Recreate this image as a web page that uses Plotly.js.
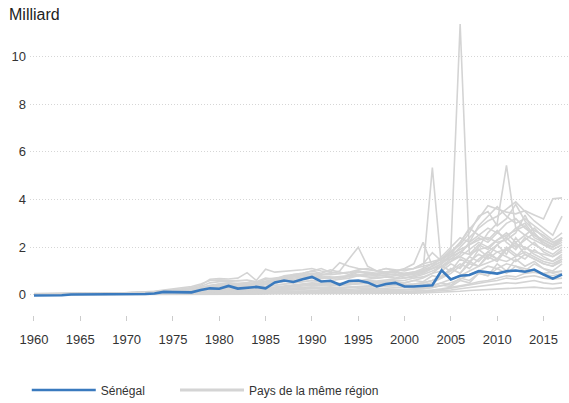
<!DOCTYPE html>
<html>
<head>
<meta charset="utf-8">
<script src="https://cdn.plot.ly/plotly-3.0.1.min.js"></script>
<style>html,body{margin:0;padding:0;background:#fff;}#chart{width:569px;height:403px;}</style>
</head>
<body>
<div id="chart"></div>
<script>
const years = [1960,1961,1962,1963,1964,1965,1966,1967,1968,1969,
  1970,1971,1972,1973,1974,1975,1976,1977,1978,1979,
  1980,1981,1982,1983,1984,1985,1986,1987,1988,1989,
  1990,1991,1992,1993,1994,1995,1996,1997,1998,1999,
  2000,2001,2002,2003,2004,2005,2006,2007,2008,2009,
  2010,2011,2012,2013,2014,2015,2016,2017];
const xTickVals = [1960,1965,1970,1975,1980,1985,1990,1995,2000,2005,2010,2015];
const yTickVals = [0,2,4,6,8,10];
const seriesNames = ["Sénégal", "Pays de la même région"];

const senegal = [-0.03,-0.03,-0.02,-0.02,0.01,0.01,0.01,0.01,0.01,0.02,
  0.02,0.02,0.03,0.05,0.12,0.11,0.1,0.1,0.2,0.27,
  0.25,0.37,0.26,0.3,0.33,0.27,0.52,0.6,0.54,0.65,
  0.75,0.56,0.59,0.42,0.58,0.6,0.52,0.35,0.45,0.5,
  0.35,0.35,0.38,0.4,1.03,0.64,0.8,0.83,0.99,0.95,
  0.89,0.99,1.02,0.97,1.06,0.85,0.68,0.85];

const region01 = [0.05,0.06,0.06,0.07,0.08,0.08,0.07,0.06,0.06,0.07,
  0.08,0.1,0.12,0.15,0.2,0.25,0.3,0.35,0.45,0.6,
  0.62,0.6,0.58,0.62,0.55,0.7,0.65,0.8,0.85,0.9,
  1.0,0.9,1.05,0.95,0.85,1.0,0.9,0.85,0.95,1.0,
  0.85,0.95,1.1,1.3,1.5,1.9,11.37,1.7,2.1,1.9,
  2.3,2.6,2.2,2.5,2.8,2.4,2.2,2.3];
const region02 = [0.02,0.02,0.03,0.03,0.03,0.04,0.04,0.04,0.05,0.05,
  0.05,0.06,0.06,0.07,0.1,0.12,0.15,0.18,0.25,0.3,
  0.35,0.4,0.38,0.36,0.32,0.35,0.4,0.45,0.5,0.55,
  0.6,0.55,0.5,0.48,0.52,0.6,0.65,0.7,0.75,0.7,
  0.8,0.9,1.0,5.34,1.1,1.4,1.7,2.2,2.5,2.8,
  2.6,2.4,2.8,3.0,2.5,2.3,2.1,2.4];
const region03 = [0.01,0.01,0.02,0.02,0.02,0.02,0.03,0.03,0.03,0.03,
  0.04,0.04,0.05,0.05,0.07,0.08,0.1,0.12,0.15,0.18,
  0.2,0.22,0.2,0.18,0.17,0.2,0.22,0.25,0.28,0.3,
  0.32,0.3,0.28,0.3,0.32,0.35,0.38,0.4,0.42,0.4,
  0.35,0.38,0.42,0.5,0.7,0.9,1.2,1.6,2.0,2.6,
  3.0,5.44,2.8,2.5,2.3,2.1,2.0,2.4];
const region04 = [0.03,0.03,0.04,0.04,0.05,0.05,0.05,0.06,0.06,0.07,
  0.08,0.09,0.1,0.12,0.15,0.2,0.22,0.25,0.3,0.4,
  0.45,0.5,0.48,0.5,0.45,0.55,0.6,0.65,0.7,0.75,
  0.8,0.75,0.7,0.72,0.75,0.8,0.85,0.9,0.95,1.0,
  1.05,1.1,1.2,1.3,1.5,1.8,2.2,2.75,3.2,3.74,
  3.6,3.47,3.4,3.53,3.35,3.18,4.03,4.07];
const region05 = [0.02,0.03,0.03,0.03,0.04,0.04,0.04,0.05,0.05,0.05,
  0.06,0.07,0.08,0.1,0.12,0.15,0.2,0.25,0.35,0.5,
  0.55,0.55,0.6,0.6,0.5,0.65,0.7,0.75,0.8,0.85,
  0.9,0.85,0.9,1.0,1.5,2.0,1.2,1.0,1.1,1.05,
  1.0,1.1,1.3,1.4,1.5,1.7,1.9,2.1,2.3,2.4,
  2.2,2.3,2.6,3.35,2.6,2.1,1.9,2.1];
const region06 = [0.01,0.01,0.01,0.02,0.02,0.02,0.02,0.02,0.03,0.03,
  0.03,0.04,0.04,0.05,0.06,0.08,0.1,0.12,0.15,0.2,
  0.25,0.28,0.3,0.3,0.28,0.35,0.4,0.45,0.5,0.55,
  0.6,0.55,0.6,0.65,0.7,0.8,0.75,0.7,0.75,0.8,
  0.85,0.9,1.0,1.1,1.3,1.6,2.0,2.4,2.8,3.1,
  3.3,3.6,3.9,3.5,3.1,2.8,2.5,3.3];
const region07 = [0.03,0.04,0.05,0.06,0.06,0.07,0.07,0.06,0.06,0.07,
  0.08,0.09,0.1,0.12,0.15,0.2,0.25,0.3,0.4,0.65,
  0.68,0.66,0.7,0.93,0.6,1.07,0.95,0.98,1.0,1.05,
  1.1,1.0,0.95,0.9,0.95,1.05,1.1,1.0,0.95,1.0,
  1.1,1.3,2.2,1.2,1.4,1.6,1.8,1.7,1.9,2.0,
  1.8,1.9,2.1,2.0,1.8,1.7,1.6,1.8];
const region08 = [0.02,0.02,0.02,0.03,0.03,0.03,0.03,0.03,0.04,0.04,
  0.04,0.05,0.05,0.06,0.08,0.1,0.12,0.14,0.18,0.22,
  0.25,0.27,0.25,0.24,0.22,0.26,0.3,0.35,0.38,0.4,
  0.45,0.42,0.4,0.38,0.42,0.5,0.55,0.5,0.52,0.55,
  0.5,0.6,0.55,0.8,0.7,1.1,0.9,1.4,1.2,1.7,
  1.5,1.9,1.6,2.0,1.7,1.5,1.4,1.7];
const region09 = [0.01,0.01,0.01,0.01,0.01,0.02,0.02,0.02,0.02,0.02,
  0.02,0.03,0.03,0.03,0.04,0.05,0.06,0.07,0.08,0.1,
  0.12,0.13,0.12,0.11,0.1,0.12,0.14,0.15,0.17,0.18,
  0.2,0.18,0.17,0.16,0.18,0.2,0.22,0.2,0.21,0.22,
  0.2,0.22,0.25,0.3,0.4,0.35,0.6,0.5,0.9,0.8,
  1.3,1.0,1.5,1.2,1.4,1.1,1.0,1.3];
const region10 = [0.02,0.02,0.02,0.02,0.03,0.03,0.03,0.03,0.03,0.04,
  0.04,0.04,0.05,0.05,0.06,0.08,0.09,0.1,0.12,0.15,
  0.18,0.2,0.19,0.18,0.17,0.2,0.22,0.25,0.27,0.3,
  0.32,0.3,0.28,0.27,0.3,0.33,0.35,0.34,0.36,0.38,
  0.4,0.45,0.5,0.6,0.75,1.0,1.3,1.1,1.5,1.8,
  2.1,2.4,2.0,2.3,2.6,2.2,2.0,2.2];
const region11 = [0.01,0.01,0.01,0.01,0.01,0.01,0.01,0.01,0.01,0.01,
  0.01,0.01,0.02,0.02,0.02,0.03,0.03,0.04,0.05,0.06,
  0.07,0.08,0.07,0.07,0.06,0.07,0.08,0.09,0.1,0.11,
  0.12,0.11,0.1,0.1,0.11,0.12,0.13,0.12,0.13,0.14,
  0.13,0.14,0.16,0.18,0.22,0.28,0.35,0.42,0.5,0.55,
  0.6,0.7,0.65,0.75,0.8,0.7,0.65,0.7];
const region12 = [0.0,0.0,0.0,0.01,0.01,0.01,0.01,0.01,0.01,0.01,
  0.01,0.01,0.01,0.02,0.02,0.02,0.03,0.03,0.04,0.04,
  0.05,0.05,0.05,0.05,0.04,0.05,0.06,0.06,0.07,0.07,
  0.08,0.07,0.07,0.07,0.08,0.08,0.09,0.09,0.1,0.1,
  0.1,0.11,0.12,0.14,0.16,0.2,0.25,0.3,0.35,0.4,
  0.45,0.5,0.48,0.55,0.6,0.5,0.45,0.5];
const region13 = [0.01,0.01,0.01,0.02,0.02,0.02,0.02,0.02,0.02,0.02,
  0.03,0.03,0.03,0.04,0.05,0.06,0.07,0.08,0.1,0.12,
  0.14,0.15,0.14,0.13,0.12,0.14,0.16,0.18,0.2,0.22,
  0.25,0.23,0.22,0.2,0.22,0.25,0.28,0.26,0.28,0.3,
  0.3,0.32,0.35,0.4,0.5,0.65,0.8,1.0,1.2,1.35,
  1.5,1.4,1.6,1.8,1.6,1.4,1.3,1.5];
const region14 = [0.02,0.02,0.03,0.03,0.03,0.03,0.03,0.04,0.04,0.04,
  0.05,0.05,0.06,0.07,0.09,0.12,0.15,0.18,0.25,0.35,
  0.4,0.42,0.4,0.38,0.35,0.45,0.55,0.65,0.75,0.8,
  0.85,0.8,0.75,0.7,0.8,0.95,0.9,0.85,0.9,0.95,
  0.9,0.95,1.0,1.1,1.2,1.4,1.6,1.9,2.2,2.0,
  2.3,2.5,2.7,2.9,2.4,2.2,2.0,2.3];
const region15 = [0.01,0.01,0.01,0.01,0.01,0.01,0.02,0.02,0.02,0.02,
  0.02,0.02,0.02,0.03,0.03,0.04,0.05,0.05,0.06,0.07,
  0.08,0.09,0.08,0.08,0.07,0.08,0.09,0.1,0.11,0.12,
  0.13,0.12,0.12,0.11,0.12,0.14,0.15,0.14,0.15,0.16,
  0.15,0.16,0.18,0.2,0.25,0.3,0.38,0.45,0.55,0.6,
  0.7,0.8,0.75,0.9,0.95,0.85,0.8,0.9];
const region16 = [0.01,0.01,0.01,0.01,0.02,0.02,0.02,0.02,0.02,0.02,
  0.02,0.03,0.03,0.03,0.04,0.05,0.06,0.06,0.08,0.09,
  0.1,0.11,0.1,0.1,0.09,0.1,0.12,0.13,0.14,0.15,
  0.16,0.15,0.14,0.14,0.15,0.17,0.18,0.17,0.18,0.2,
  0.2,0.22,0.25,0.3,0.38,0.5,0.65,0.85,1.0,1.2,
  1.1,1.3,1.2,1.1,1.0,0.9,0.95,1.0];
const region17 = [0.0,0.0,0.0,0.0,0.0,0.0,0.01,0.01,0.01,0.01,
  0.01,0.01,0.01,0.01,0.01,0.02,0.02,0.02,0.03,0.03,
  0.03,0.03,0.03,0.03,0.03,0.03,0.04,0.04,0.04,0.05,
  0.05,0.05,0.05,0.05,0.05,0.06,0.06,0.06,0.06,0.07,
  0.07,0.07,0.08,0.09,0.1,0.12,0.15,0.18,0.2,0.22,
  0.25,0.28,0.27,0.3,0.32,0.28,0.26,0.3];
const region18 = [0.02,0.02,0.02,0.03,0.03,0.03,0.03,0.03,0.04,0.04,
  0.04,0.05,0.05,0.06,0.07,0.09,0.11,0.13,0.16,0.2,
  0.24,0.26,0.25,0.24,0.22,0.28,0.32,0.36,0.4,0.45,
  0.5,0.48,0.46,0.44,0.48,0.55,0.6,0.58,0.62,0.65,
  0.7,0.75,0.85,1.0,1.2,1.5,1.8,2.1,2.4,2.2,
  2.6,3.0,3.2,2.8,2.5,2.3,2.1,2.4];
const region19 = [0.02,0.02,0.02,0.02,0.03,0.03,0.03,0.03,0.03,0.03,
  0.04,0.04,0.05,0.06,0.08,0.1,0.13,0.16,0.2,0.28,
  0.35,0.38,0.36,0.4,0.35,0.42,0.5,0.55,0.6,0.65,
  0.7,0.68,0.72,0.75,0.8,0.85,0.8,0.78,0.82,0.85,
  0.9,0.95,1.05,1.2,1.4,1.8,2.1,2.6,3.3,3.5,
  2.9,3.2,3.8,3.1,2.7,2.5,2.2,2.4];
const region20 = [0.01,0.01,0.01,0.02,0.02,0.02,0.02,0.02,0.02,0.03,
  0.03,0.03,0.04,0.04,0.05,0.07,0.08,0.1,0.12,0.15,
  0.18,0.2,0.22,0.2,0.19,0.23,0.27,0.3,0.33,0.36,
  0.4,0.38,0.36,0.4,0.42,0.45,0.48,0.46,0.5,0.48,
  0.5,0.6,0.7,0.9,1.2,1.0,1.5,1.3,1.9,1.6,
  2.1,1.7,2.4,1.9,2.2,1.8,1.6,1.9];
const region21 = [0.02,0.02,0.02,0.02,0.02,0.03,0.03,0.03,0.03,0.03,
  0.04,0.04,0.04,0.05,0.06,0.08,0.1,0.12,0.15,0.2,
  0.24,0.25,0.24,0.22,0.2,0.25,0.3,0.34,0.38,0.42,
  0.46,0.44,0.42,0.45,0.5,0.55,0.52,0.55,0.58,0.6,
  0.6,0.7,0.75,0.9,1.0,1.3,1.1,1.6,1.4,1.8,
  1.5,2.0,1.7,1.5,1.9,1.6,1.4,1.6];
const region22 = [0.02,0.03,0.03,0.03,0.03,0.04,0.04,0.04,0.04,0.05,
  0.05,0.06,0.07,0.08,0.1,0.13,0.16,0.2,0.26,0.33,
  0.38,0.4,0.42,0.45,0.4,0.48,0.55,0.6,0.66,0.7,
  0.75,0.72,0.7,0.74,0.78,0.82,0.85,0.8,0.84,0.88,
  0.7,0.8,0.9,1.1,1.3,1.7,2.2,2.8,2.5,2.3,
  2.7,2.2,1.9,2.4,2.1,1.9,1.7,2.0];
const region23 = [0.03,0.03,0.03,0.04,0.04,0.04,0.05,0.05,0.05,0.05,
  0.06,0.07,0.08,0.09,0.11,0.14,0.17,0.2,0.24,0.28,
  0.3,0.35,0.38,0.4,0.42,0.5,0.6,0.7,0.85,0.9,
  1.0,1.1,0.95,1.35,1.2,1.1,1.05,1.0,1.1,1.0,
  1.06,1.1,1.3,1.77,1.4,1.5,1.6,1.4,1.7,1.5,
  1.8,1.6,1.4,1.7,1.5,1.3,1.2,1.4];
const region24 = [0.01,0.01,0.01,0.01,0.01,0.01,0.01,0.02,0.02,0.02,
  0.02,0.02,0.02,0.03,0.03,0.04,0.05,0.06,0.07,0.08,
  0.09,0.1,0.09,0.09,0.08,0.1,0.11,0.12,0.13,0.14,
  0.15,0.14,0.13,0.14,0.15,0.16,0.17,0.18,0.19,0.2,
  0.2,0.25,0.3,0.35,0.5,0.4,0.7,0.6,0.9,0.8,
  1.1,0.9,1.2,1.0,1.3,1.1,0.9,1.0];
const region25 = [0.01,0.01,0.02,0.02,0.02,0.02,0.02,0.02,0.03,0.03,
  0.03,0.03,0.04,0.04,0.05,0.06,0.08,0.09,0.11,0.14,
  0.16,0.18,0.17,0.16,0.15,0.18,0.2,0.23,0.26,0.28,
  0.3,0.29,0.28,0.3,0.32,0.34,0.36,0.35,0.37,0.38,
  0.4,0.45,0.5,0.6,0.8,1.1,0.9,1.3,1.2,1.6,
  1.4,1.9,2.2,1.7,1.5,1.3,1.2,1.5];
const region26 = [0.03,0.03,0.03,0.04,0.04,0.04,0.04,0.05,0.05,0.05,
  0.06,0.06,0.07,0.09,0.11,0.14,0.18,0.22,0.3,0.4,
  0.45,0.47,0.45,0.5,0.48,0.58,0.65,0.72,0.78,0.82,
  0.9,0.86,0.84,0.88,0.92,0.98,0.95,0.9,0.96,1.0,
  0.8,0.85,0.95,1.2,1.6,2.0,2.4,2.2,2.9,3.3,
  3.7,3.3,3.0,3.2,2.9,2.6,2.3,2.6];

const regionSeries = [region01,region02,region03,region04,region05,region06,region07,region08,region09,
  region10,region11,region12,region13,region14,region15,region16,region17,region18,
  region19,region20,region21,region22,region23,region24,region25,region26];

const GRAY = "rgb(212,212,212)";
const BLUE = "rgb(58,122,190)";

const traces = regionSeries.map((vals) => ({
  type: "scatter", mode: "lines", x: years, y: vals,
  name: seriesNames[1], legendgroup: "region", showlegend: false,
  line: {color: GRAY, width: 1.6}, hoverinfo: "skip"
}));
// legend-only entry for the regional group (no data points)
traces.push({
  type: "scatter", mode: "lines", x: [null], y: [null],
  name: seriesNames[1], legendgroup: "region", showlegend: true, legend: "legend2",
  line: {color: GRAY, width: 3}, hoverinfo: "skip"
});
traces.push({
  type: "scatter", mode: "lines", x: years, y: senegal,
  name: seriesNames[0], legend: "legend",
  line: {color: BLUE, width: 2.6}, hoverinfo: "skip"
});

const legendBase = {orientation: "h", xanchor: "left", y: -0.255, yanchor: "middle",
  itemwidth: 64, font: {size: 12, color: "#333"}, bgcolor: "rgba(0,0,0,0)"};

const layout = {
  width: 569, height: 403,
  margin: {l: 30, r: 0, t: 21, b: 88, pad: 0, autoexpand: false},
  paper_bgcolor: "#fff", plot_bgcolor: "#fff",
  font: {family: "Liberation Sans, Arial, sans-serif", size: 13, color: "#333"},
  title: {text: "Milliard", x: 9/569, xref: "container", xanchor: "left",
          y: 1 - 14/403, yref: "container", yanchor: "middle",
          font: {size: 16, color: "#222"}},
  xaxis: {range: [1959.57, 2017.75], tickvals: xTickVals, ticks: "outside", ticklen: 5,
          tickwidth: 1, tickcolor: "#ccc", showgrid: false, zeroline: false, showline: false,
          ticklabelstandoff: 7, fixedrange: true},
  yaxis: {range: [-0.85, 11.5], tickvals: yTickVals, showgrid: true, gridcolor: "#d6d6d6",
          griddash: "1px,2px", gridwidth: 1, zeroline: false, showline: false, ticks: "",
          ticklabelstandoff: 3, fixedrange: true},
  showlegend: true,
  legend: Object.assign({}, legendBase, {x: -0.006}),
  legend2: Object.assign({}, legendBase, {x: 0.269})
};

Plotly.newPlot("chart", traces, layout, {displayModeBar: false, staticPlot: true});
</script>
</body>
</html>
